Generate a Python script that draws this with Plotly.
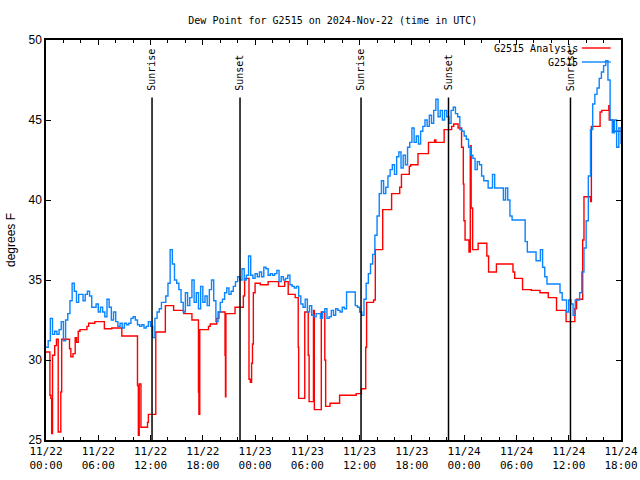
import pandas as pd
import plotly.graph_objects as go

BASE = pd.Timestamp("2024-11-22 00:00")

# Observations (G2515), hours since 2024-11-22 00:00 UTC, every 15 min
obs_hours = [i * 0.25 for i in range(265)]
obs_values = [
    30.8, 31.2, 32.6, 31.6,
    31.8, 31.6, 31.9, 32.4,
    31.2, 32.5, 32.9, 33.7,
    34.8, 34.3, 33.6, 34.1,
    34.1, 33.7, 34.1, 34.3,
    34.0, 33.3, 33.3, 33.5,
    33.0, 33.3, 33.0, 32.7,
    33.8, 33.3, 32.5, 33.0,
    32.4, 32.1, 32.3, 32.0,
    32.3, 32.2, 32.3, 32.6,
    32.7, 32.5, 32.2, 32.1,
    32.2, 32.0, 32.1, 32.4,
    32.1, 31.4, 32.6, 33.0,
    33.2, 33.6, 33.6, 34.0,
    34.8, 36.9, 36.0, 35.0,
    34.8, 34.4, 33.6, 33.0,
    34.2, 33.4, 33.9, 35.0,
    33.6, 34.2, 33.2, 34.6,
    33.6, 34.0, 33.4, 34.4,
    35.0, 33.7, 32.4, 33.0,
    33.6, 33.8, 34.2, 34.5,
    34.1, 34.3, 34.6, 34.9,
    35.2, 35.0, 35.7, 35.0,
    35.3, 36.5, 35.3, 35.1,
    35.4, 35.2, 35.5, 35.2,
    35.8, 35.7, 35.3, 35.4,
    35.3, 35.4, 35.6, 34.9,
    35.2, 35.0, 35.1, 35.3,
    34.7, 34.6, 34.5, 34.6,
    34.0, 33.5, 33.3, 33.8,
    33.0, 33.4, 32.8, 32.7,
    32.9, 32.9, 32.6, 33.0,
    33.2, 32.6, 32.7, 33.1,
    32.8, 33.2, 33.1, 33.0,
    33.3, 33.2, 34.25, 34.25,
    34.25, 34.25, 33.4, 33.3,
    33.0, 32.8, 33.8, 34.8,
    35.4, 36.0, 36.6, 37.8,
    39.0, 40.4, 41.2, 40.4,
    40.8, 41.5, 41.9, 42.2,
    41.6, 42.7, 43.0, 42.0,
    42.8, 42.2, 43.3, 43.6,
    44.5, 43.6, 44.0, 43.5,
    44.3, 44.6, 45.0, 44.6,
    45.3, 44.8, 45.6, 46.3,
    45.2, 45.6, 45.0, 45.6,
    45.2, 44.8, 45.6, 45.8,
    45.4, 45.2, 44.4, 44.3,
    44.0, 43.8, 43.3, 42.8,
    42.6, 41.9, 42.4, 42.2,
    41.5, 41.2, 41.2, 40.75,
    40.75, 41.6, 40.75, 40.75,
    40.75, 40.75, 40.0, 40.75,
    40.0, 39.0, 38.75, 38.75,
    38.75, 38.75, 38.75, 38.75,
    37.4, 36.75, 36.75, 36.75,
    36.75, 36.2, 36.2, 36.9,
    35.8, 35.2, 34.75, 34.75,
    34.75, 34.75, 34.75, 34.75,
    34.2, 33.75, 33.75, 33.0,
    33.75, 33.5, 32.8, 33.75,
    33.75, 34.2, 35.5, 37.0,
    38.7, 41.5, 44.4, 46.0,
    46.6, 47.0, 47.6, 48.0,
    48.4, 48.7, 47.5, 45.0,
    44.2, 45.0, 43.3, 44.5,
    43.5,
]

# Analysis (G2515 Analysis), step changes: hours and values
ana_hours = [0, 0.45, 0.55, 0.65, 0.75, 1.0, 1.2, 1.4, 1.7, 1.8, 2.7, 2.85, 3.1, 3.35,
             3.5, 3.7, 3.9, 4.7, 4.9, 5.6, 6.7, 7.55, 8.7, 10.5, 10.6, 10.7, 10.9,
             11.65, 11.75, 12.6, 13.7, 14.65, 15.8, 16.75, 17.5, 17.55, 17.65, 18.65,
             18.85, 19.6, 19.85, 20.55, 20.6, 20.65, 21.7, 22.65, 22.8, 23.3, 23.45,
             23.6, 23.7, 23.8, 24.0, 24.6, 25.5, 26.7, 27.4, 27.8, 28.6, 28.95, 29.0,
             29.7, 30.1, 30.2, 30.7, 30.8, 31.6, 32.0, 32.1, 32.6, 33.7, 35.6, 36.2,
             36.7, 36.8, 37.6, 37.8, 38.65, 39.67, 40.6, 40.8, 41.7, 41.85, 42.7,
             43.9, 44.6, 44.75, 45.7, 46.56, 46.8, 47.3, 47.7, 47.9, 47.97, 48.1,
             48.55, 48.7, 48.8, 48.97, 49.6, 50.6, 50.8, 51.7, 53.6, 53.8, 54.7,
             55.7, 56.7, 57.65, 58.6, 59.7, 60.7, 60.9, 61.6, 61.75, 62.5, 62.6,
             63.6, 63.8, 64.6, 64.65, 65.1, 66.0]
ana_values = [30.5, 27.8, 27.6, 25.4, 30.3, 30.9, 31.3, 25.5, 28.0, 31.3, 30.7, 30.2, 30.4, 31.4,
              31.1, 31.8, 31.9, 32.1, 32.3, 32.4, 31.95, 32.0, 31.5, 28.4, 25.3, 28.5, 25.8,
              26.1, 26.6, 31.75, 33.4, 33.1, 32.9, 32.5, 28.0, 26.6, 31.9, 32.1,
              32.25, 32.6, 33.0, 30.3, 27.7, 32.9, 33.3, 34.0, 35.1, 28.8, 28.6,
              29.8, 31.0, 34.2, 34.8, 34.7, 34.9, 34.6, 34.9, 34.1, 33.9, 30.8, 27.6,
              33.0, 30.3, 27.4, 33.1, 26.9, 33.0, 30.0, 27.1, 27.3, 27.8, 27.9, 28.2,
              30.8, 33.6, 33.75, 36.9, 39.4, 40.4, 40.8, 41.6, 42.1, 42.2, 42.9,
              43.6, 43.75, 43.6, 44.4, 44.6, 44.75, 44.5, 43.3, 41.0, 38.7, 37.5,
              36.75, 43.4, 39.5, 36.9, 37.3, 36.5, 35.5, 36.0, 35.5, 35.1, 34.4,
              34.35, 34.2, 33.9, 33.1, 32.4, 33.2, 33.8, 37.5, 40.2, 39.9, 44.6,
              45.5, 45.6, 45.9, 45.0, 44.3, 44.3]

# Sun events (hours since start)
sun_hours = [12.17, 22.27, 36.16, 46.2, 60.2]
sun_labels = ["Sunrise", "Sunset", "Sunrise", "Sunset", "Sunrise"]

tick_hours = [0, 6, 12, 18, 24, 30, 36, 42, 48, 54, 60, 66]
tick_text = ["11/22<br>00:00", "11/22<br>06:00", "11/22<br>12:00", "11/22<br>18:00",
             "11/23<br>00:00", "11/23<br>06:00", "11/23<br>12:00", "11/23<br>18:00",
             "11/24<br>00:00", "11/24<br>06:00", "11/24<br>12:00", "11/24<br>18:00"]


def to_time(hours):
    return [BASE + pd.Timedelta(hours=h) for h in hours]


RED = "#ff0000"
BLUE = "#0a84ff"
MONO = "DejaVu Sans Mono"

fig = go.Figure()
fig.add_trace(go.Scatter(x=to_time(ana_hours), y=ana_values, mode="lines",
                         line=dict(color=RED, width=1.4, shape="hv"),
                         name="G2515 Analysis", showlegend=False))
fig.add_trace(go.Scatter(x=to_time(obs_hours), y=obs_values, mode="lines",
                         line=dict(color=BLUE, width=1.4, shape="hv"),
                         name="G2515", showlegend=False))

for h, lab in zip(sun_hours, sun_labels):
    t = BASE + pd.Timedelta(hours=h)
    fig.add_shape(type="line", x0=t, x1=t, y0=25, y1=46.4, xref="x", yref="y",
                  line=dict(color="black", width=1.5))
    fig.add_annotation(x=t, y=46.7, xref="x", yref="y", text=lab, textangle=-90,
                       showarrow=False, xanchor="center", yanchor="bottom",
                       font=dict(family=MONO, size=10, color="black"))

# legend (text left of sample line)
for name, color, yp in [("G2515 Analysis", RED, 0.980), ("G2515", BLUE, 0.945)]:
    fig.add_annotation(x=0.929, y=yp, xref="paper", yref="paper", text=name,
                       showarrow=False, xanchor="right", yanchor="middle",
                       font=dict(family=MONO, size=10, color="black"))
    fig.add_shape(type="line", x0=0.932, x1=0.982, y0=yp, y1=yp, xref="paper",
                  yref="paper", line=dict(color=color, width=1.4))

# page body margin is removed below, so the figure sits at (0,0);
# the plot box lands at x 46-621, y 40-440
fig.update_layout(
    width=640, height=480,
    margin=dict(l=46, r=19, t=40, b=40, autoexpand=False),
    paper_bgcolor="white", plot_bgcolor="white",
    title=dict(text="Dew Point for G2515 on 2024-Nov-22 (time in UTC)",
               x=0.52, xanchor="center", y=0.958, yanchor="middle",
               font=dict(family=MONO, size=10, color="black")),
    showlegend=False,
)
fig.update_xaxes(
    automargin=False,
    range=[BASE, BASE + pd.Timedelta(hours=66)],
    tickmode="array", tickvals=to_time(tick_hours), ticktext=tick_text,
    ticks="inside", ticklen=5, tickcolor="black", tickwidth=1,
    minor=dict(dtick=2 * 3600 * 1000, tick0=BASE, ticks="inside", ticklen=3,
               tickcolor="black", showgrid=False),
    showline=True, linecolor="black", linewidth=1.5, mirror="ticks",
    showgrid=False, zeroline=False,
    ticklabeloverflow="allow",
    tickfont=dict(family=MONO, size=11, color="black"),
)
fig.update_yaxes(
    automargin=False,
    range=[25, 50], tickmode="linear", tick0=25, dtick=5,
    ticks="inside", ticklen=5, tickcolor="black",
    showline=True, linecolor="black", linewidth=1.5, mirror="ticks",
    showgrid=False, zeroline=False,
    tickfont=dict(family="Liberation Sans", size=12, color="black"),
    title=dict(text="degrees F", font=dict(family="Liberation Sans", size=12, color="black"),
               standoff=10),
)

fig.write_html(
    "out.html",
    config={"displayModeBar": False},
    post_script="document.body.style.margin='0';"
                "document.documentElement.style.overflow='hidden';"
                "document.body.style.overflow='hidden';",
)
